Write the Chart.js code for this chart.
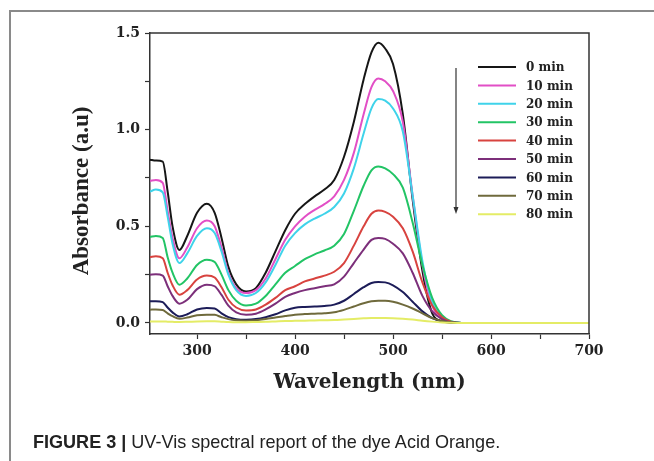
<!DOCTYPE html>
<html>
<head>
<meta charset="utf-8">
<script src="https://cdn.jsdelivr.net/npm/chart.js@4/dist/chart.umd.min.js"></script>
<style>
  html, body { margin: 0; padding: 0; background: #fff; }
  #wrap { position: relative; width: 654px; height: 461px; overflow: hidden; background: #fff; }
  #frame { position: absolute; left: 9px; top: 10px; width: 660px; height: 470px;
           border-top: 2px solid #8a8a8a; border-left: 2px solid #8a8a8a; }
  #c { position: absolute; left: 0; top: 0; }
  #cap { position: absolute; left: 33px; top: 431px; font-family: "Liberation Sans", Arial, sans-serif;
         font-size: 19px; line-height: 22px; color: #222; white-space: nowrap; transform-origin: left center; transform: scaleX(0.95); }
  #cap b { font-weight: bold; }
</style>
</head>
<body>
<div id="wrap">
  <div id="frame"></div>
  <canvas id="c" width="654" height="461"></canvas>
  <div id="cap"><b>FIGURE 3 |</b> UV-Vis spectral report of the dye Acid Orange.</div>
</div>
<script>
// Wavelengths (nm)
const wavelengths = [252, 258, 265, 270, 275, 282, 290, 300, 310, 318, 325, 332, 340, 350, 360, 370, 380, 390, 400, 410, 420, 430, 440, 450, 460, 470, 478, 485, 492, 500, 510, 520, 530, 540, 550, 560, 570, 580, 600, 650, 700];

// Absorbance series
const min0  = [0.845, 0.84, 0.835, 0.68, 0.50, 0.378, 0.45, 0.57, 0.617, 0.57, 0.44, 0.29, 0.20, 0.163, 0.18, 0.26, 0.37, 0.48, 0.565, 0.615, 0.655, 0.69, 0.74, 0.86, 1.04, 1.26, 1.40, 1.45, 1.42, 1.34, 1.08, 0.64, 0.27, 0.05, 0.01, 0.002, 0, 0, 0, 0, 0];
const min10 = [0.735, 0.74, 0.725, 0.58, 0.44, 0.335, 0.39, 0.49, 0.53, 0.50, 0.39, 0.26, 0.18, 0.155, 0.17, 0.23, 0.33, 0.43, 0.50, 0.55, 0.585, 0.615, 0.655, 0.74, 0.88, 1.08, 1.22, 1.265, 1.25, 1.20, 1.04, 0.66, 0.30, 0.09, 0.02, 0.004, 0, 0, 0, 0, 0];
const min20 = [0.68, 0.69, 0.675, 0.55, 0.41, 0.31, 0.36, 0.45, 0.49, 0.465, 0.37, 0.25, 0.17, 0.14, 0.155, 0.21, 0.30, 0.40, 0.465, 0.51, 0.54, 0.565, 0.60, 0.67, 0.80, 0.98, 1.11, 1.158, 1.15, 1.11, 0.99, 0.66, 0.32, 0.11, 0.03, 0.006, 0, 0, 0, 0, 0];
const min30 = [0.445, 0.45, 0.44, 0.34, 0.26, 0.198, 0.23, 0.30, 0.327, 0.315, 0.25, 0.17, 0.115, 0.09, 0.10, 0.14, 0.20, 0.26, 0.295, 0.33, 0.355, 0.375, 0.40, 0.46, 0.58, 0.71, 0.79, 0.81, 0.80, 0.77, 0.70, 0.52, 0.30, 0.13, 0.04, 0.008, 0, 0, 0, 0, 0];
const min40 = [0.341, 0.345, 0.335, 0.26, 0.195, 0.146, 0.17, 0.225, 0.245, 0.235, 0.185, 0.12, 0.08, 0.065, 0.07, 0.095, 0.13, 0.17, 0.19, 0.215, 0.23, 0.245, 0.265, 0.31, 0.40, 0.50, 0.565, 0.582, 0.575, 0.55, 0.49, 0.37, 0.21, 0.09, 0.03, 0.005, 0, 0, 0, 0, 0];
const min50 = [0.25, 0.252, 0.245, 0.19, 0.14, 0.10, 0.12, 0.175, 0.198, 0.19, 0.145, 0.09, 0.055, 0.043, 0.048, 0.07, 0.10, 0.135, 0.155, 0.17, 0.18, 0.19, 0.20, 0.24, 0.31, 0.38, 0.43, 0.44, 0.435, 0.41, 0.36, 0.26, 0.14, 0.06, 0.02, 0.003, 0, 0, 0, 0, 0];
const min60 = [0.112, 0.113, 0.108, 0.08, 0.055, 0.034, 0.045, 0.07, 0.078, 0.075, 0.05, 0.03, 0.02, 0.017, 0.02, 0.03, 0.045, 0.065, 0.079, 0.083, 0.085, 0.088, 0.095, 0.115, 0.15, 0.185, 0.207, 0.212, 0.21, 0.195, 0.16, 0.11, 0.06, 0.025, 0.008, 0.002, 0, 0, 0, 0, 0];
const min70 = [0.069, 0.07, 0.067, 0.05, 0.035, 0.022, 0.028, 0.04, 0.043, 0.042, 0.03, 0.02, 0.014, 0.012, 0.014, 0.02, 0.028, 0.036, 0.043, 0.046, 0.048, 0.05, 0.055, 0.068, 0.085, 0.102, 0.112, 0.115, 0.115, 0.11, 0.095, 0.075, 0.05, 0.025, 0.01, 0.003, 0, 0, 0, 0, 0];
const min80 = [0.008, 0.008, 0.008, 0.007, 0.006, 0.005, 0.006, 0.008, 0.009, 0.009, 0.007, 0.005, 0.004, 0.004, 0.005, 0.006, 0.008, 0.01, 0.011, 0.012, 0.013, 0.014, 0.015, 0.018, 0.021, 0.024, 0.026, 0.026, 0.026, 0.025, 0.022, 0.018, 0.012, 0.007, 0.003, 0.001, 0, 0, 0, 0, 0];

const seriesLabels = ["0 min", "10 min", "20 min", "30 min", "40 min", "50 min", "60 min", "70 min", "80 min"];
const seriesValues = [min0, min10, min20, min30, min40, min50, min60, min70, min80];
const seriesColors = ["#161616", "#e24fc6", "#3fd3ea", "#22c465", "#d8433f", "#7c2f7a", "#1c1c58", "#6f6a3c", "#e4ec66"];

const xTickValues = [300, 350, 400, 450, 500, 550, 600, 650, 700];
const xTicksMajor = [300, 400, 500, 600, 700];
const yTickValues = [0, 0.25, 0.5, 0.75, 1.0, 1.25, 1.5];
const yTicksMajor = [0.0, 0.5, 1.0, 1.5];
const yTitle = 'Absorbance (a.u)';

const wide = '"DejaVu Serif", "Liberation Serif", serif';
const serif = '"Liberation Serif", "Times New Roman", serif';

const datasets = seriesValues.map((vals, i) => ({
  label: seriesLabels[i],
  data: wavelengths.map((w, j) => ({ x: w, y: vals[j] })),
  borderColor: seriesColors[i],
  backgroundColor: seriesColors[i],
  borderWidth: 2,
  pointRadius: 0,
  fill: false,
  cubicInterpolationMode: 'monotone'
})).reverse();

const framePlugin = {
  id: 'frame',
  afterDatasetsDraw(chart) {
    const { ctx, chartArea: a } = chart;
    ctx.save();
    ctx.strokeStyle = '#333';
    ctx.lineWidth = 1.5;
    ctx.beginPath();
    ctx.moveTo(a.left, a.top);
    ctx.lineTo(a.right, a.top);
    ctx.lineTo(a.right, a.bottom);
    ctx.stroke();

    // legend
    const ds = chart.data.datasets.slice().reverse();
    const lx0 = 478, lx1 = 516, tx = 526;
    const y0 = a.top + 34, dy = 18.4;
    ctx.font = 'bold 12px ' + wide;
    ctx.textBaseline = 'middle';
    ctx.textAlign = 'left';
    ds.forEach((d, i) => {
      const y = y0 + i * dy;
      ctx.strokeStyle = d.borderColor;
      ctx.lineWidth = 2;
      ctx.beginPath();
      ctx.moveTo(lx0, y);
      ctx.lineTo(lx1, y);
      ctx.stroke();
      ctx.fillStyle = '#222';
      ctx.fillText(d.label, tx, y + 1);
    });

    // arrow
    const ax = 456, ayTop = a.top + 35, ayBot = a.top + 181;
    ctx.strokeStyle = '#333';
    ctx.fillStyle = '#333';
    ctx.lineWidth = 1.2;
    ctx.beginPath();
    ctx.moveTo(ax, ayTop);
    ctx.lineTo(ax, ayBot - 5);
    ctx.stroke();
    ctx.beginPath();
    ctx.moveTo(ax - 2.5, ayBot - 7);
    ctx.lineTo(ax + 2.5, ayBot - 7);
    ctx.lineTo(ax, ayBot);
    ctx.closePath();
    ctx.fill();

    // y axis title
    ctx.translate(82, a.top + 158);
    ctx.rotate(-Math.PI / 2);
    ctx.font = 'bold 23px ' + serif;
    ctx.fillStyle = '#222';
    ctx.textAlign = 'center';
    ctx.textBaseline = 'middle';
    ctx.fillText(yTitle, 0, 0);
    ctx.restore();
  }
};

new Chart(document.getElementById('c'), {
  type: 'line',
  data: { datasets },
  options: {
    responsive: false,
    animation: false,
    devicePixelRatio: 1,
    layout: { padding: { top: 33, right: 65, left: 0, bottom: 0 } },
    plugins: { legend: { display: false }, tooltip: { enabled: false } },
    scales: {
      x: {
        type: 'linear',
        min: 252, max: 700,
        afterFit(s) { s.height = 127; },
        afterBuildTicks(s) { s.ticks = xTickValues.map(v => ({ value: v })); },
        border: { display: true, color: '#333', width: 1.5 },
        grid: { drawOnChartArea: false, drawTicks: true, tickLength: 5, color: '#333', tickWidth: 1.2 },
        ticks: {
          autoSkip: false, maxRotation: 0, padding: 4,
          color: '#222', font: { family: wide, size: 14, weight: 'bold' },
          callback: (v) => xTicksMajor.includes(Math.round(v)) ? String(Math.round(v)) : ''
        },
        title: { display: true, text: 'Wavelength (nm)', color: '#222',
          font: { family: wide, size: 20, weight: 'bold', lineHeight: 1.2 },
          padding: { top: 0, bottom: 66 } }
      },
      y: {
        min: -0.057, max: 1.5,
        afterFit(s) { s.width = 150; },
        afterBuildTicks(s) { s.ticks = yTickValues.map(v => ({ value: v })); },
        border: { display: true, color: '#333', width: 1.5 },
        grid: { drawOnChartArea: false, drawTicks: true, tickLength: 5, color: '#333', tickWidth: 1.2 },
        ticks: {
          autoSkip: false, padding: 5,
          color: '#222', font: { family: wide, size: 14, weight: 'bold' },
          callback: (v) => yTicksMajor.some(t => Math.abs(t - v) < 1e-9) ? v.toFixed(1) : ''
        },
        title: { display: false }
      }
    }
  },
  plugins: [framePlugin]
});
</script>
</body>
</html>
